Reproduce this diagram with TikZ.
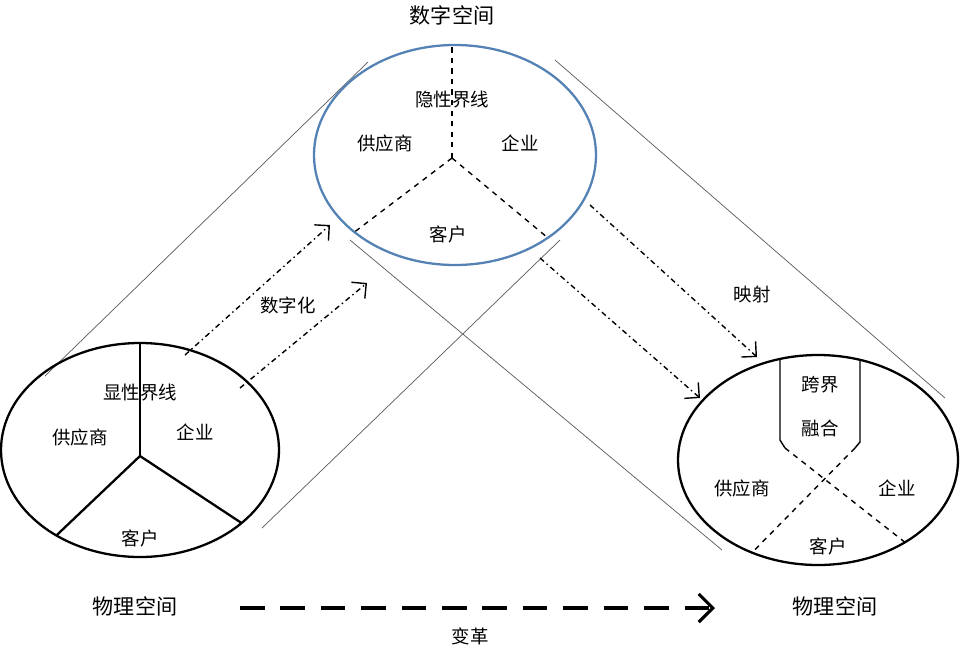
\documentclass[tikz,border=0pt]{standalone}
\usepackage{fontspec}
\setmainfont{Noto Sans CJK SC}
\usetikzlibrary{arrows.meta}
\definecolor{ringblue}{RGB}{84,130,180}
\tikzset{
  lab/.style = {font=\fontsize{10.5}{12}\selectfont, inner sep=1pt},
  big/.style = {font=\fontsize{12}{14}\selectfont, inner sep=1pt},
  ring/.style = {line width=1.3pt},
  map/.style = {thick, dash dot, -{Straight Barb[length=6pt]}},
  part/.style = {thick, dashed},
  tan/.style = {gray!70!black, thin}
}
\begin{document}
\begin{tikzpicture}[x=0.02cm, y=-0.02cm]
\useasboundingbox (0,0) rectangle (960,653);

% tangent lines
\draw[tan] (45,376) -- (368,62);
\draw[tan] (262,528) -- (560,240);
\draw[tan] (350,240) -- (722,550);
\draw[tan] (555,60) -- (945,398);

% top ellipse
\draw[ring, ringblue] (455,155) ellipse [x radius=141, y radius=110];
\coordinate (tc) at (452,158);
\begin{scope}
\clip (455,155) ellipse [x radius=141, y radius=110];
\draw[part] (tc) -- (452,40);
\draw[part] (tc) -- (340,243);
\draw[part] (tc) -- (560,248);
\end{scope}
\node[lab] (t1) at (452,100) {隐性界线};
\node[lab] (t2) at (385,143) {供应商};
\node[lab] (t3) at (520,143) {企业};
\node[lab] (t4) at (448,234) {客户};
\node[big] (top) at (452,15) {数字空间};

% left ellipse
\draw[ring] (140,450) ellipse [x radius=139, y radius=107];
\coordinate (lc) at (140,456);
\begin{scope}
\clip (140,450) ellipse [x radius=139, y radius=107];
\draw[ring] (lc) -- (140,330);
\draw[ring] (lc) -- (20,570);
\draw[ring] (lc) -- (290,555);
\end{scope}
\node[lab] (l1) at (140,393) {显性界线};
\node[lab] (l2) at (80,437) {供应商};
\node[lab] (l3) at (195,432) {企业};
\node[lab] (l4) at (140,538) {客户};
\node[big] (left) at (135,606) {物理空间};

% right ellipse
\draw[ring] (818,460) ellipse [x radius=140, y radius=105];
\begin{scope}
\clip (818,460) ellipse [x radius=140, y radius=105];
\draw[thick] (780,340) -- (780,440) -- (785,448);
\draw[thick] (860,340) -- (860,442) -- (855,448);
\draw[part] (785,448) -- (930,562);
\draw[part] (855,448) -- (730,575);
\end{scope}
\node[lab] (r1) at (820,385) {跨界};
\node[lab] (r2) at (820,428) {融合};
\node[lab] (r3) at (742,488) {供应商};
\node[lab] (r4) at (897,488) {企业};
\node[lab] (r5) at (828,546) {客户};
\node[big] (right) at (835,606) {物理空间};

% arrows
\draw[map] (185,355) -- (330,225);
\draw[map] (240,388) -- (367,283);
\draw[map] (590,205) -- (757,357);
\draw[map] (540,258) -- (700,398);
\node[lab] (dig) at (288,305) {数字化};
\node[lab] (ys) at (752,295) {映射};

\draw[line width=1.8pt, dash pattern=on 14pt off 9pt, -{Straight Barb[length=8pt]}] (240,608) coordinate (b1) -- (715,608) coordinate (b2);
\node[lab] (bg) at (470,636) {变革};
\end{tikzpicture}
\end{document}
